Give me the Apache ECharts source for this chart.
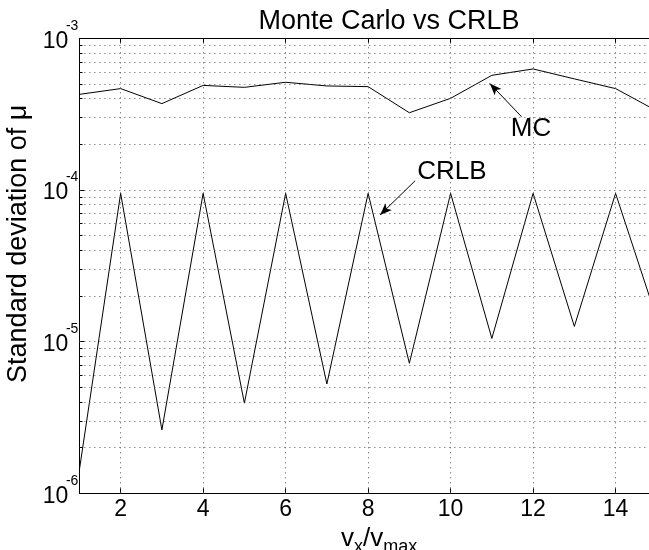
<!DOCTYPE html>
<html>
<head>
<meta charset="utf-8">
<script src="https://cdn.jsdelivr.net/npm/echarts@6/dist/echarts.min.js"></script>
<style>
  html, body { margin: 0; padding: 0; background: #fff; }
  #chart { width: 649px; height: 550px; }
</style>
</head>
<body>
<div id="chart"></div>
<script>
// Velocity ratio samples and the two estimates of the spread of mu
const xValues = [1, 2, 3, 4, 5, 6, 7, 8, 9, 10, 11, 12, 13, 14, 15];
const mcValues = [4.27e-4, 4.66e-4, 3.71e-4, 4.89e-4, 4.75e-4, 5.13e-4, 4.85e-4, 4.80e-4,
                  3.23e-4, 4.02e-4, 5.70e-4, 6.28e-4, 5.40e-4, 4.66e-4, 3.32e-4];
const crlbValues = [1.43e-6, 9.5e-5, 2.62e-6, 9.5e-5, 3.93e-6, 9.5e-5, 5.26e-6, 9.5e-5,
                    7.2e-6, 9.5e-5, 1.05e-5, 9.5e-5, 1.26e-5, 9.5e-5, 1.41e-5];

// Axis ticks
const xTicks = [2, 4, 6, 8, 10, 12, 14];
const yExponents = [-6, -5, -4, -3];
const minorMultipliers = [2, 3, 4, 5, 6, 7, 8, 9];

// Text arrows: [tail, head] in data units, and the text anchors
const mcArrow = [[11.72, 3.04e-4], [10.95, 5.04e-4]];
const crlbArrow = [[9.14, 1.15e-4], [8.29, 6.84e-5]];
const mcText = [11.95, 2.52e-4];
const crlbText = [10.03, 1.32e-4];

const FONT = '"Liberation Sans", Arial, Helvetica, sans-serif';
// The visible window ends a little before the last sample at 15
const X_MIN = 1, X_MAX = 14.81;
const Y_MIN = Math.pow(10, yExponents[0]);
const Y_MAX = Math.pow(10, yExponents[yExponents.length - 1]);

const gridDash = { color: '#555', width: 1, type: [1, 4] };
const lineStyleBlack = { color: '#000', width: 1 };

// Dotted grid: every inner decade plus 2..9 within each decade
const gridLines = [];
xTicks.forEach(function (v) { gridLines.push({ xAxis: v }); });
const minorValues = [];
for (let i = 0; i < yExponents.length - 1; i++) {
  const base = Math.pow(10, yExponents[i]);
  if (i > 0) gridLines.push({ yAxis: base });
  minorMultipliers.forEach(function (k) {
    minorValues.push(k * base);
    gridLines.push({ yAxis: k * base });
  });
}

// Short minor tick marks along the left edge
const minorTickLen = 0.075;
const minorTicks = minorValues.map(function (v) {
  return [{ coord: [X_MIN, v] }, { coord: [X_MIN + minorTickLen, v] }];
});

function exponentOf(v) { return Math.round(Math.log10(v)); }

const chart = echarts.init(document.getElementById('chart'), null, { renderer: 'canvas' });

const yBase = {
  type: 'log',
  logBase: 10,
  min: Y_MIN,
  max: Y_MAX,
  position: 'left',
  splitLine: { show: false }
};

chart.setOption({
  animation: false,
  backgroundColor: '#fff',
  textStyle: { fontFamily: FONT },
  title: {
    text: 'Monte Carlo vs CRLB',
    left: 384,
    textAlign: 'center',
    top: 3,
    textStyle: { fontFamily: FONT, fontSize: 27, fontWeight: 'normal', color: '#000' }
  },
  grid: {
    left: 79.4,
    top: 38.3,
    right: 0,
    bottom: 56.7,
    outerBoundsMode: 'none',
    containLabel: false
  },
  xAxis: [{
    type: 'value',
    min: X_MIN,
    max: X_MAX,
    position: 'bottom',
    name: '{n|v}{sub|x}{n|/v}{sub|max}',
    nameLocation: 'middle',
    nameGap: 15,
    nameTextStyle: {
      padding: [0, 0, 0, 30],
      rich: {
        n: { fontFamily: FONT, fontSize: 26, color: '#000', lineHeight: 30, verticalAlign: 'top' },
        sub: { fontFamily: FONT, fontSize: 18, color: '#000', lineHeight: 30, verticalAlign: 'bottom' }
      }
    },
    axisLine: { show: true, onZero: false, lineStyle: lineStyleBlack },
    axisTick: { show: true, inside: true, length: 5, customValues: xTicks, lineStyle: lineStyleBlack },
    axisLabel: {
      show: true,
      customValues: xTicks,
      margin: 5,
      fontFamily: FONT,
      fontSize: 23,
      color: '#000'
    },
    splitLine: { show: false }
  }, {
    type: 'value',
    min: X_MIN,
    max: X_MAX,
    position: 'top',
    axisLine: { show: true, onZero: false, lineStyle: lineStyleBlack },
    axisTick: { show: true, inside: true, length: 5, customValues: xTicks, lineStyle: lineStyleBlack },
    axisLabel: { show: false },
    splitLine: { show: false }
  }],
  yAxis: [Object.assign({}, yBase, {
    // mantissa "10" of each decade label
    name: 'Standard deviation of \u03bc',
    nameLocation: 'middle',
    nameRotate: 90,
    nameGap: 35,
    nameTextStyle: { fontFamily: FONT, fontSize: 27, color: '#000', padding: [0, 0, 0, 44] },
    axisLine: { show: true, onZero: false, lineStyle: lineStyleBlack },
    axisTick: { show: true, inside: true, length: 5, lineStyle: lineStyleBlack },
    axisLabel: {
      margin: 11,
      formatter: function () { return '{m|10}'; },
      rich: {
        m: { fontFamily: FONT, fontSize: 23, color: '#000', padding: [6, 0, 0, 0] }
      }
    }
  }), Object.assign({}, yBase, {
    // exponent of each decade label
    axisLine: { show: false },
    axisTick: { show: false },
    axisLabel: {
      margin: 1,
      verticalAlign: 'bottom',
      formatter: function (v) { return '{e|' + exponentOf(v) + '}'; },
      rich: {
        e: { fontFamily: FONT, fontSize: 14, lineHeight: 14, color: '#000', padding: [0, 0, 11, 0] }
      }
    }
  })],
  series: [{
    name: 'grid',
    type: 'line',
    data: [],
    silent: true,
    z: 1,
    markLine: {
      silent: true,
      precision: 12,
      symbol: ['none', 'none'],
      label: { show: false },
      lineStyle: gridDash,
      data: gridLines
    }
  }, {
    name: 'ticks',
    type: 'line',
    data: [],
    silent: true,
    z: 1,
    markLine: {
      silent: true,
      precision: 12,
      symbol: ['none', 'none'],
      label: { show: false },
      lineStyle: lineStyleBlack,
      data: minorTicks
    }
  }, {
    name: 'MC',
    type: 'line',
    data: xValues.map(function (x, i) { return [x, mcValues[i]]; }),
    showSymbol: false,
    symbol: 'none',
    lineStyle: lineStyleBlack,
    itemStyle: { color: '#000' },
    z: 3,
    markLine: {
      silent: true,
      precision: 12,
      symbol: ['none', 'arrow'],
      symbolSize: [7, 12],
      label: { show: false },
      lineStyle: { color: '#000', width: 1, type: 'solid' },
      data: [[{ coord: mcArrow[0] }, { coord: mcArrow[1] }]]
    },
    markPoint: {
      silent: true,
      symbol: 'rect',
      symbolSize: 1,
      itemStyle: { color: 'rgba(0,0,0,0)' },
      label: { show: true, position: 'inside', formatter: 'MC', fontFamily: FONT, fontSize: 26, color: '#000' },
      data: [{ coord: mcText }]
    }
  }, {
    name: 'CRLB',
    type: 'line',
    data: xValues.map(function (x, i) { return [x, crlbValues[i]]; }),
    showSymbol: false,
    symbol: 'none',
    lineStyle: lineStyleBlack,
    itemStyle: { color: '#000' },
    z: 3,
    markLine: {
      silent: true,
      precision: 12,
      symbol: ['none', 'arrow'],
      symbolSize: [7, 12],
      label: { show: false },
      lineStyle: { color: '#000', width: 1, type: 'solid' },
      data: [[{ coord: crlbArrow[0] }, { coord: crlbArrow[1] }]]
    },
    markPoint: {
      silent: true,
      symbol: 'rect',
      symbolSize: 1,
      itemStyle: { color: 'rgba(0,0,0,0)' },
      label: { show: true, position: 'inside', formatter: 'CRLB', fontFamily: FONT, fontSize: 26, color: '#000' },
      data: [{ coord: crlbText }]
    }
  }]
});
</script>
</body>
</html>
